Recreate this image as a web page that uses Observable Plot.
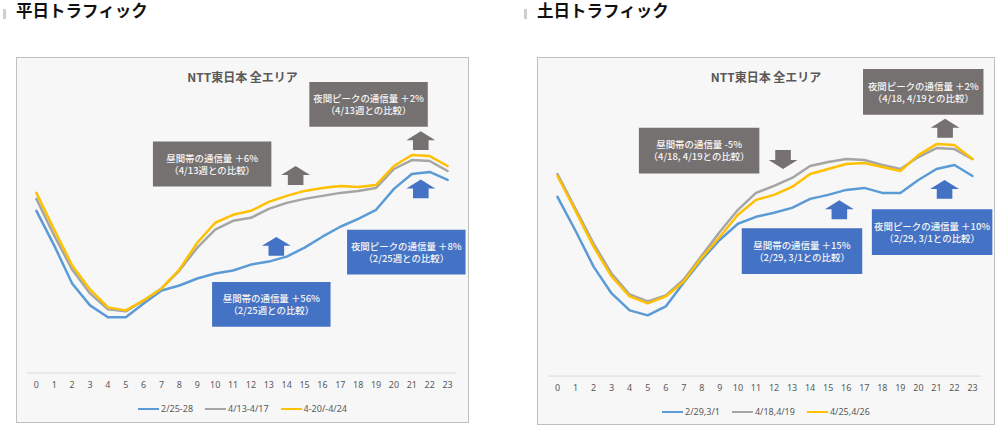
<!DOCTYPE html>
<html><head><meta charset="utf-8">
<script src="https://cdn.jsdelivr.net/npm/d3@7"></script>
<script src="https://cdn.jsdelivr.net/npm/@observablehq/plot@0.6"></script>
<style>
body{margin:0;background:#fff;width:1000px;height:429px;position:relative;overflow:hidden;font-family:"Noto Sans CJK JP","Noto Sans",sans-serif;}
.hbar{position:absolute;width:3px;height:10px;top:9px;background:#cfcfcf;}
.heading{position:absolute;top:0;font-size:16.5px;font-weight:bold;color:#111;line-height:20px;white-space:nowrap;}
.panel{position:absolute;top:57px;border:1px solid #bfbfbf;background:#f7f7f7;box-sizing:border-box;}
.panel svg{position:absolute;left:-1px;top:-1px;overflow:visible;}
.ptitle{position:absolute;left:0;right:0;top:12px;text-align:center;font-size:12px;line-height:14px;font-weight:bold;color:#595959;}
.legend{position:absolute;left:0;right:0;text-align:center;font-family:"Noto Sans","Noto Sans CJK JP",sans-serif;font-size:9px;line-height:12px;color:#595959;white-space:nowrap;}
.legend .item{display:inline-flex;align-items:center;margin:0 6px;}
.legend i{display:inline-block;width:21px;height:2.5px;margin-right:2px;}
</style></head>
<body>
<div class="hbar" style="left:3px"></div>
<div class="heading" style="left:16px">平日トラフィック</div>
<div class="hbar" style="left:524px"></div>
<div class="heading" style="left:537px">土日トラフィック</div>
<div id="left" class="panel" style="left:16px;width:453px;height:366px"><div class="ptitle">NTT東日本 全エリア</div></div>
<div id="right" class="panel" style="left:537px;width:458px;height:368px"><div class="ptitle">NTT東日本 全エリア</div></div>
<script>
// ---- categories ----
const hours = [0,1,2,3,4,5,6,7,8,9,10,11,12,13,14,15,16,17,18,19,20,21,22,23];
const hourLabels = ["0","1","2","3","4","5","6","7","8","9","10","11","12","13","14","15","16","17","18","19","20","21","22","23"];

// ---- weekday traffic (relative index) ----
const weekdaySeries = ["2/25-28","4/13-4/17","4-20/-4/24"];
const weekdayFeb25 = [163,128,90,68,56,56,70,83,88,95,100,103,109,112,117,126,137,147,155,164,185,200,202,194];
const weekdayApr13 = [175,138,104,80,64,62,73,85,103,126,144,153,156,165,171,175,178,181,183,186,205,214,213,203];
const weekdayApr20 = [181,144,108,84,66,63,73,85,104,131,151,159,163,172,178,183,186,188,187,189,208,219,218,208];

// ---- weekend traffic (relative index) ----
const weekendSeries = ["2/29,3/1","4/18,4/19","4/25,4/26"];
const weekendFeb29 = [180,146,110,83,66,61,70,94,117,137,153,160,164,169,178,182,187,189,184,184,197,208,212,201];
const weekendApr18 = [203,168,133,103,82,75,81,97,121,145,167,184,191,199,211,215,218,217,212,208,220,229,228,218];
const weekendApr25 = [201,166,130,100,80,73,80,95,119,140,162,177,182,190,203,208,213,214,210,206,222,233,232,218];

// ---- annotations (anchored at hour / value) ----
const weekdayNotes = [
  {hour:18.58, value:270, kind:"gray", text:"夜間ピークの通信量 ＋2%\n（4/13週との比較）"},
  {hour:9.83, value:210, kind:"gray", text:"昼間帯の通信量 ＋6%\n（4/13週との比較）"},
  {hour:20.69, value:121.5, kind:"blue", text:"夜間ピークの通信量 ＋8%\n（2/25週との比較）"},
  {hour:13.14, value:69, kind:"blue", text:"昼間帯の通信量 ＋56%\n（2/25週との比較）"}
];
const weekdayArrows = [
  {hour:14.5, value:198.5, kind:"gray", dir:"up"},
  {hour:21.5, value:233.5, kind:"gray", dir:"up"},
  {hour:21.5, value:185, kind:"blue", dir:"up"},
  {hour:13.42, value:127.3, kind:"blue", dir:"up"}
];
const weekendNotes = [
  {hour:20.27, value:285.5, kind:"gray", text:"夜間ピークの通信量 ＋2%\n（4/18, 4/19との比較）"},
  {hour:7.85, value:226.5, kind:"gray", text:"昼間帯の通信量 -5%\n（4/18, 4/19との比較）"},
  {hour:20.76, value:144.7, kind:"blue", text:"夜間ピークの通信量 ＋10%\n（2/29, 3/1との比較）"},
  {hour:13.55, value:125.5, kind:"blue", text:"昼間帯の通信量 ＋15%\n（2/29, 3/1との比較）"}
];
const weekendArrows = [
  {hour:21.48, value:249, kind:"gray", dir:"up"},
  {hour:12.5, value:217.5, kind:"gray", dir:"down"},
  {hour:21.45, value:187.5, kind:"blue", dir:"up"},
  {hour:15.62, value:167, kind:"blue", dir:"up"}
];

// ---- styles ----
const seriesColors = ["#5b9bd5","#a5a5a5","#ffc000"];
const kindColors = {gray:"#767171", blue:"#4472c4"};

function arrowSymbol(dir){
  return {draw(ctx, size){
    const r = Math.sqrt(size/Math.PI), s = dir === "up" ? 1 : -1;
    const top = -0.655*r*s, base = -0.034*r*s, bot = 0.655*r*s, sw = 0.54*r;
    ctx.moveTo(0, top); ctx.lineTo(r, base); ctx.lineTo(sw, base); ctx.lineTo(sw, bot);
    ctx.lineTo(-sw, bot); ctx.lineTo(-sw, base); ctx.lineTo(-r, base); ctx.closePath();
  }};
}
function boxSymbol(w, h){
  return {draw(ctx){ ctx.rect(-w/2, -h/2, w, h); }};
}

function panel({el, width, height, frameBottom, marginRight, series, values, notes, arrows, boxW, boxH, legendTop}){
  const marks = [
    Plot.ruleY([0], {stroke:"#d9d9d9", strokeWidth:1}),
    Plot.axisX(hours, {tickSize:0, tickPadding:9, tickFormat:d => hourLabels[d], fontSize:9, fill:"#595959", label:null, fontFamily:"Noto Sans"})
  ];
  series.forEach((s, i) => {
    const rows = values[i].map((v, j) => ({hour:hours[j], value:v}));
    marks.push(Plot.line(rows, {x:"hour", y:"value", stroke:seriesColors[i], strokeWidth:2.5, strokeLinejoin:"round"}));
  });
  for (const kind of ["gray","blue"]) {
    marks.push(Plot.dot(notes.filter(d => d.kind === kind), {x:"hour", y:"value", r:10, symbol:boxSymbol(boxW, boxH), fill:kindColors[kind], stroke:null}));
    for (const dir of ["up","down"]) {
      const a = arrows.filter(d => d.kind === kind && d.dir === dir);
      if (a.length) marks.push(Plot.dot(a, {x:"hour", y:"value", r:14.5, symbol:arrowSymbol(dir), fill:kindColors[kind], stroke:null}));
    }
  }
  marks.push(Plot.text(notes, {x:"hour", y:"value", text:"text", fill:"#f4f4f4", fontSize:9.5, lineHeight:1.27, fontWeight:500}));
  const svg = Plot.plot({
    width, height,
    marginLeft:11, marginRight, marginTop:0, marginBottom:height - frameBottom,
    x:{domain:[-0.5, 23.5]},
    y:{domain:[0, frameBottom], axis:null},
    style:{background:"transparent", fontFamily:"'Noto Sans CJK JP', 'Noto Sans', sans-serif", overflow:"visible"},
    marks
  });
  const host = document.getElementById(el);
  host.appendChild(svg);
  const leg = document.createElement("div");
  leg.className = "legend";
  leg.style.top = legendTop + "px";
  series.forEach((s, i) => {
    const it = document.createElement("span");
    it.className = "item";
    const sw = document.createElement("i");
    sw.style.background = seriesColors[i];
    it.appendChild(sw);
    it.appendChild(document.createTextNode(s));
    leg.appendChild(it);
  });
  host.appendChild(leg);
}

panel({el:"left", width:453, height:340, frameBottom:317, marginRight:11,
  series:weekdaySeries, values:[weekdayFeb25, weekdayApr13, weekdayApr20],
  notes:weekdayNotes, arrows:weekdayArrows, boxW:119, boxH:45, legendTop:343});
panel({el:"right", width:458, height:342, frameBottom:320, marginRight:12,
  series:weekendSeries, values:[weekendFeb29, weekendApr18, weekendApr25],
  notes:weekendNotes, arrows:weekendArrows, boxW:121, boxH:46, legendTop:346});
</script>
</body></html>
